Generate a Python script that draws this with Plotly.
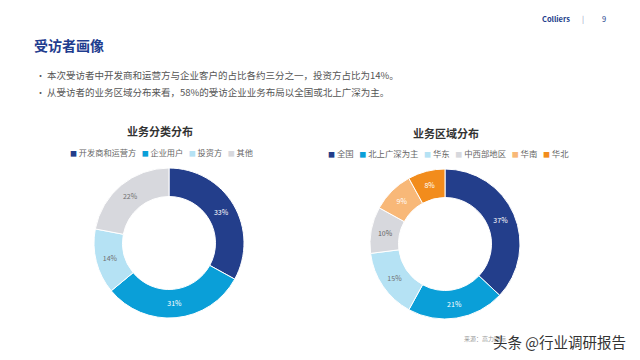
import plotly.graph_objects as go

# ---- data ----
cat1 = ["开发商和运营方", "企业用户", "投资方", "其他"]
val1 = [33, 31, 14, 22]
col1 = ["#233e8b", "#0a9fd8", "#b5e2f4", "#d7d8dd"]
txt1 = ["#ffffff", "#ffffff", "#707070", "#707070"]

cat2 = ["全国", "北上广深为主", "华东", "中西部地区", "华南", "华北"]
val2 = [37, 21, 15, 10, 9, 8]
col2 = ["#233e8b", "#0a9fd8", "#b5e2f4", "#d7d8dd", "#f8b878", "#f28c1c"]
txt2 = ["#ffffff", "#ffffff", "#707070", "#606060", "#ffffff", "#ffffff"]

title_main = "受访者画像"
bullets = [
    "本次受访者中开发商和运营方与企业客户的占比各约三分之一，投资方占比为14%。",
    "从受访者的业务区域分布来看，58%的受访企业业务布局以全国或北上广深为主。",
]
chart_titles = ["业务分类分布", "业务区域分布"]

W, H = 640, 360
FONT = "Noto Sans CJK SC"


def dom(cx, cy, r):
    return dict(x=[(cx - r) / W, (cx + r) / W], y=[1 - (cy + r) / H, 1 - (cy - r) / H])


fig = go.Figure()
for cats, vals, cols, tcols, (cx, cy) in [
    (cat1, val1, col1, txt1, (169, 243)),
    (cat2, val2, col2, txt2, (445, 244)),
]:
    fig.add_trace(go.Pie(
        labels=cats, values=vals, sort=False, direction="clockwise", rotation=0,
        hole=0.62, domain=dom(cx, cy, 75),
        marker=dict(colors=cols, line=dict(color="#ffffff", width=1)),
        texttemplate="%{value}%", textposition="inside",
        insidetextorientation="horizontal",
        textfont=dict(family=FONT, size=7, color=tcols),
        showlegend=False, hoverinfo="label+percent",
    ))


def legend_text(cats, cols):
    parts = []
    for c, k in zip(cats, cols):
        parts.append(f"<span style='color:{k};font-size:7px'>■</span> {c}")
    return "&nbsp;&nbsp;&nbsp;".join(parts)


ann = []
# header
ann.append(dict(x=556 / W, y=1 - 18 / H, text="<b>Colliers</b>", showarrow=False,
                font=dict(family=FONT, size=7.5, color="#233e8b"), xanchor="center", yanchor="middle"))
ann.append(dict(x=583 / W, y=1 - 18 / H, text="|", showarrow=False,
                font=dict(family=FONT, size=7.5, color="#8a93b8"), xanchor="center", yanchor="middle"))
ann.append(dict(x=604 / W, y=1 - 18 / H, text="9", showarrow=False,
                font=dict(family=FONT, size=7.5, color="#233e8b"), xanchor="center", yanchor="middle"))
# main title
ann.append(dict(x=32 / W, y=1 - 45 / H, text=f"<b>{title_main}</b>", showarrow=False,
                font=dict(family=FONT, size=14, color="#1f3d8f"), xanchor="left", yanchor="middle"))
# bullets
for i, b in enumerate(bullets):
    yy = 1 - (75 + 17 * i) / H
    ann.append(dict(x=34 / W, y=yy, text="•", showarrow=False,
                    font=dict(family=FONT, size=9, color="#555555"), xanchor="left", yanchor="middle"))
    ann.append(dict(x=45 / W, y=yy, text=b, showarrow=False,
                    font=dict(family=FONT, size=9.5, color="#555555"), xanchor="left", yanchor="middle"))
# chart titles
ann.append(dict(x=160 / W, y=1 - 131 / H, text=f"<b>{chart_titles[0]}</b>", showarrow=False,
                font=dict(family=FONT, size=11, color="#333333"), xanchor="center", yanchor="middle"))
ann.append(dict(x=446 / W, y=1 - 133 / H, text=f"<b>{chart_titles[1]}</b>", showarrow=False,
                font=dict(family=FONT, size=11, color="#333333"), xanchor="center", yanchor="middle"))
# legends
ann.append(dict(x=161 / W, y=1 - 152 / H, text=legend_text(cat1, col1), showarrow=False,
                font=dict(family=FONT, size=8.2, color="#666666"), xanchor="center", yanchor="middle"))
ann.append(dict(x=448 / W, y=1 - 153 / H, text=legend_text(cat2, col2), showarrow=False,
                font=dict(family=FONT, size=8.4, color="#666666"), xanchor="center", yanchor="middle"))
# source + watermark
ann.append(dict(x=462 / W, y=1 - 338 / H, text="来源：高力国际", showarrow=False,
                font=dict(family=FONT, size=6, color="#9a9a9a"), xanchor="left", yanchor="middle"))
ann.append(dict(x=628 / W, y=1 - 341 / H, text="头条 @行业调研报告", showarrow=False,
                font=dict(family=FONT, size=14.5, color="#333333"), xanchor="right", yanchor="middle"))

fig.update_layout(
    width=W, height=H, margin=dict(l=0, r=0, t=0, b=0),
    paper_bgcolor="#ffffff", plot_bgcolor="#ffffff",
    annotations=ann, showlegend=False,
)
fig.write_html("out.html", config={"displayModeBar": False},
               post_script="document.body.style.margin='0';")
